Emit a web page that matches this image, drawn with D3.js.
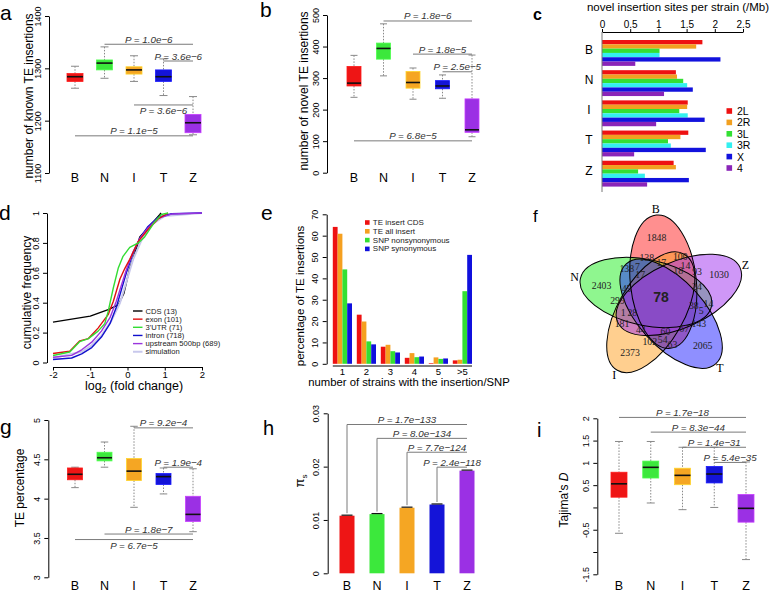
<!DOCTYPE html>
<html><head><meta charset="utf-8">
<script src="https://cdn.jsdelivr.net/npm/d3@7"></script>
<style>
body{margin:0;background:#fff;}
svg{display:block;}
</style></head><body>
<script>
// ---------------- DATA ----------------
const groups = ["B","N","I","T","Z"];
// box stats: [lowWhisker, Q1, median, Q3, highWhisker]
const knownTEBox = [[1262,1275,1284,1290,1304],[1281,1297,1310,1316,1341],[1275,1289,1297,1303,1324],[1248,1275,1284,1297,1318],[1173,1177,1196,1212,1246]];
const knownTEP = [["N","Z",1346,"1.0e\u22126","above"],["T","Z",1314,"3.6e\u22126","above"],["I","Z",1230,"3.6e\u22126","below"],["B","Z",1171,"1.1e\u22125","above"]];
const novelTEBox = [[239,275,284,337,372],[307,360,394,411,472],[233,268,286,321,332],[236,266,275,292,310],[114,128,136,234,373]];
const novelTEP = [["N","Z",481,"1.8e\u22126","above"],["I","Z",376,"1.8e\u22125","above"],["T","Z",320,"2.5e\u22125","above"],["B","Z",101,"6.8e\u22125","above"]];
const chromosomes = ["2L","2R","3L","3R","X","4"];
const insertionRate = [[1.78,1.67,1.02,1.02,2.10,0.59],[1.31,1.33,1.44,1.51,1.61,1.10],[1.52,1.51,1.37,1.52,1.82,0.96],[1.53,1.39,1.17,1.22,1.84,0.57],[1.27,1.31,0.64,0.76,1.54,0.80]];
const cdsCurve = [[-2,0.27],[-1,0.31],[-0.5,0.355],[-0.25,0.385],[-0.1,0.46],[0.05,0.62],[0.25,0.77],[0.33,0.84],[0.46,0.875],[0.87,0.99],[0.9,1.0]];
const exonCurve = [[-2,0.06],[-1.55,0.075],[-1.28,0.145],[-1.05,0.16],[-0.79,0.23],[-0.52,0.32],[-0.38,0.41],[-0.2,0.56],[-0.07,0.63],[0.06,0.69],[0.29,0.81],[0.55,0.89],[0.82,0.96],[1.09,1.0]];
const utrCurve = [[-2,0.047],[-1.55,0.07],[-1.28,0.14],[-1.05,0.16],[-0.79,0.21],[-0.61,0.26],[-0.52,0.34],[-0.38,0.5],[-0.25,0.63],[-0.12,0.71],[0.06,0.77],[0.29,0.8],[0.46,0.84],[0.73,0.94],[0.91,0.99],[1.09,1.0]];
const intronCurve = [[-2,0.02],[-1.5,0.03],[-1.23,0.058],[-0.96,0.1],[-0.7,0.17],[-0.47,0.26],[-0.3,0.37],[-0.16,0.49],[-0.03,0.6],[0.15,0.73],[0.33,0.83],[0.55,0.91],[0.82,0.97],[1.18,0.995],[2,1.0]];
const upstreamCurve = [[-2,0.035],[-1.5,0.048],[-1.23,0.085],[-0.96,0.136],[-0.7,0.21],[-0.47,0.3],[-0.3,0.41],[-0.16,0.52],[-0.03,0.62],[0.15,0.74],[0.33,0.83],[0.55,0.9],[0.82,0.965],[1.18,0.993],[2,1.0]];
const simCurve = [[-2,0.03],[-1.23,0.072],[-0.96,0.115],[-0.7,0.18],[-0.43,0.28],[-0.2,0.4],[-0.03,0.54],[0.15,0.69],[0.38,0.82],[0.64,0.92],[1.0,0.98],[2,1.0]];
const curveNames = ["CDS (13)","exon (101)","3'UTR (71)","intron (718)","upstream 500bp (689)","simulation"];
const strainBins = ["1","2","3","4","5",">5"];
const insertSeries = ["TE insert CDS","TE all insert","SNP nonsynonymous","SNP synonymous"];
const insertPct = [[64.1,23,8,2.8,0.3,1.6],[60.9,19.8,8.9,5,3,1.9],[44.2,10.5,5.9,3.1,2.3,34],[28.3,9.1,5.3,3.4,2.5,51]];
const vennSets = ["B","Z","T","I","N"];
const vennUnique = [1848,1030,2065,2373,2403];
const vennRegionA = [18,38,60,28,17];
const vennRegionB = [17,24,67,44,45];
const vennRegionC = [138,93,143,102,299];
const vennRegionD = [100,14,63,181,138];
const vennRegionE = [14,5,54,1,7];
const vennAll = 78;
const tePctBox = [[4.14,4.24,4.31,4.39,4.40],[4.40,4.48,4.52,4.59,4.72],[3.89,4.23,4.35,4.51,4.92],[4.06,4.18,4.28,4.32,4.39],[3.58,3.71,3.80,4.03,4.38]];
const tePctP = [["I","Z",4.90,"9.2e\u22124","above"],["T","Z",4.40,"1.9e\u22124","above"],["N","Z",3.55,"1.8e\u22127","above"],["B","Z",3.48,"6.7e\u22125","below"]];
const piS = [0.0108,0.0111,0.0123,0.0129,0.01925];
const piSErr = [0.0001,0.0001,0.0001,0.0001,0.0001];
const piSP = [["B","Z",0.0279,"1.7e\u2212133"],["N","Z",0.0253,"8.0e\u2212134"],["I","Z",0.0227,"7.7e\u2212124"],["T","Z",0.0199,"2.4e\u2212118"]];
const tajimaBox = [[-0.58,0.23,0.53,0.79,1.48],[0.10,0.66,0.90,1.04,1.48],[-0.05,0.51,0.72,0.88,1.35],[0.00,0.55,0.75,0.92,1.35],[-1.17,-0.33,-0.02,0.29,1.02]];
const tajimaP = [["B","Z",2.02,"1.7e\u221218","above"],["N","Z",1.69,"8.3e\u221244","above"],["I","Z",1.35,"1.4e\u221231","above"],["T","Z",1.01,"5.4e\u221235","above"]];

// ---------------- STYLE ----------------
const sans = '"Liberation Sans", Arial, Helvetica, sans-serif';
const serif = '"Liberation Serif", "Times New Roman", serif';
const groupColors = ["#ee1515","#3ce83c","#f5a623","#1414d8","#9b30e4"];
const chromColors = ["#ee1111","#f2a020","#33e033","#33f0f0","#1212dd","#8a25b8"];
const curveColors = ["#000000","#e01010","#33dd33","#1010cc","#9a35dd","#c8c8ec"];
const seriesColors = ["#ee1111","#f5a020","#33e033","#1010dd"];
const vennColors = ["#ff2020","#a030f0","#2020ff","#ffa020","#20ee20"];
const vennDrawOrder = [0,4,3,2,1];

const svg = d3.select("body").append("svg").attr("width",778).attr("height",592)
  .attr("font-family",sans);
svg.append("rect").attr("width",778).attr("height",592).attr("fill","#fff");

function letter(t,x,y,size,bold){
  svg.append("text").attr("x",x).attr("y",y).attr("font-size",size)
    .attr("font-weight",bold?"bold":"normal").text(t);
}
function yAxis(x, scale, vals, fmt, fs, off){
  const ax = d3.axisLeft(scale).tickValues(vals).tickFormat(fmt).tickSize(4).tickSizeOuter(0);
  const a = svg.append("g").attr("transform",`translate(${x},0)`).call(ax);
  a.attr("font-family",sans).attr("font-size",fs||9);
  a.selectAll(".tick text").attr("x",null).attr("dy",null)
    .attr("transform",`translate(${-(off||8.5)},0) rotate(-90)`).attr("text-anchor","middle").attr("fill","#000");
  return a;
}
function yTitle(x,y,fs){
  return svg.append("text").attr("transform",`translate(${x},${y}) rotate(-90)`)
    .attr("text-anchor","middle").attr("font-size",fs);
}
function catLabels(xs, y){
  svg.append("g").selectAll("text").data(groups).join("text")
    .attr("x",d=>xs(d)).attr("y",y).attr("text-anchor","middle").attr("font-size",12.5).text(d=>d);
}
function pBrackets(xs, ys, list){
  const g = svg.append("g");
  g.selectAll("line").data(list).join("line")
    .attr("x1",d=>xs(d[0])).attr("x2",d=>xs(d[1])).attr("y1",d=>ys(d[2])).attr("y2",d=>ys(d[2]))
    .attr("stroke","#7a7a7a").attr("stroke-width",1);
  g.selectAll("text").data(list).join("text")
    .attr("x",d=>(xs(d[0])+xs(d[1]))/2).attr("y",d=>ys(d[2])+(d[4]==="below"?9.5:-1.5))
    .attr("text-anchor","middle").attr("font-size",9.8).attr("font-style","italic").attr("fill","#333")
    .text(d=>"P = "+d[3]);
}
function boxPanel(stats, xs, ys, bw){
  const g = svg.append("g");
  const b = g.selectAll("g").data(stats).join("g").attr("transform",(d,i)=>`translate(${xs(groups[i])},0)`);
  b.append("line").attr("y1",d=>ys(d[4])).attr("y2",d=>ys(d[3])).attr("stroke","#888").attr("stroke-dasharray","1.5,1.5");
  b.append("line").attr("y1",d=>ys(d[1])).attr("y2",d=>ys(d[0])).attr("stroke","#888").attr("stroke-dasharray","1.5,1.5");
  b.append("line").attr("x1",-bw/4).attr("x2",bw/4).attr("y1",d=>ys(d[4])).attr("y2",d=>ys(d[4])).attr("stroke","#888");
  b.append("line").attr("x1",-bw/4).attr("x2",bw/4).attr("y1",d=>ys(d[0])).attr("y2",d=>ys(d[0])).attr("stroke","#888");
  b.append("rect").attr("x",-bw/2).attr("width",bw).attr("y",d=>ys(d[3])).attr("height",d=>ys(d[1])-ys(d[3]))
    .attr("fill",(d,i)=>groupColors[i]).attr("stroke",(d,i)=>d3.color(groupColors[i]).brighter(0.7)).attr("stroke-width",0.8);
  b.append("line").attr("x1",-bw/2).attr("x2",bw/2).attr("y1",d=>ys(d[2])).attr("y2",d=>ys(d[2]))
    .attr("stroke","#111").attr("stroke-width",1.6);
}

// ---------------- PANEL a ----------------
{
  const xs = d3.scalePoint().domain(groups).range([75,193]);
  const ys = d3.scaleLinear().domain([1100,1400]).range([173,16]);
  yAxis(49, ys, [1100,1200,1300,1400], d=>d);
  yTitle(32.5,96,12).text("number of known TE insertions");
  boxPanel(knownTEBox, xs, ys, 16);
  pBrackets(xs, ys, knownTEP);
  catLabels(xs, 182);
  letter("a",0,20,21);
}
// ---------------- PANEL b ----------------
{
  const xs = d3.scalePoint().domain(groups).range([354,472]);
  const ys = d3.scaleLinear().domain([0,500]).range([172.7,15]);
  yAxis(327, ys, [0,100,200,300,400,500], d=>d);
  yTitle(308,91,12).text("number of novel TE insertions");
  boxPanel(novelTEBox, xs, ys, 14);
  pBrackets(xs, ys, novelTEP);
  catLabels(xs, 182);
  letter("b",260,17,21);
}
// ---------------- PANEL c ----------------
{
  const xs = d3.scaleLinear().domain([0,2.5]).range([602,743]);
  const ys = d3.scaleBand().domain(groups).range([35.7,190.9]).paddingInner(1/7).paddingOuter(1/7);
  const yi = d3.scaleBand().domain(chromosomes).range([0,ys.bandwidth()]);
  const ax = d3.axisTop(xs).tickValues([0,0.5,1,1.5,2,2.5]).tickFormat(d=>String(d)).tickSize(3).tickPadding(1.5).tickSizeOuter(0);
  const a = svg.append("g").attr("transform","translate(0,32)").call(ax);
  a.attr("font-family",sans).attr("font-size",10);
  a.selectAll(".tick text").attr("fill","#000");
  const g = svg.append("g");
  const grp = g.selectAll("g").data(insertionRate).join("g").attr("transform",(d,i)=>`translate(0,${ys(groups[i])})`);
  grp.selectAll("rect").data(d=>d).join("rect")
    .attr("x",xs(0)).attr("y",(d,j)=>yi(chromosomes[j])).attr("height",yi.bandwidth())
    .attr("width",d=>xs(d)-xs(0)).attr("fill",(d,j)=>chromColors[j]);
  svg.append("line").attr("x1",602).attr("x2",602).attr("y1",32).attr("y2",192).attr("stroke","#777");
  svg.append("g").selectAll("text").data(groups).join("text")
    .attr("x",589).attr("y",d=>ys(d)+ys.bandwidth()/2-3).attr("dominant-baseline","central")
    .attr("text-anchor","middle").attr("font-size",12).text(d=>d);
  svg.append("text").attr("x",678).attr("y",11).attr("text-anchor","middle").attr("font-size",11.5)
    .text("novel insertion sites per strain (/Mb)");
  const lg = svg.append("g").selectAll("g").data(chromosomes).join("g")
    .attr("transform",(d,i)=>`translate(726.5,${111+i*11.4})`);
  lg.append("rect").attr("x",0).attr("y",-2.8).attr("width",5.6).attr("height",5.6).attr("fill",(d,i)=>chromColors[i]);
  lg.append("text").attr("x",10.5).attr("dominant-baseline","central").attr("font-size",10.5).text(d=>d);
  letter("c",533,20,16,true);
}
// ---------------- PANEL d ----------------
{
  const xs = d3.scaleLinear().domain([-2,2]).range([53,202]);
  const ys = d3.scaleLinear().domain([0,1]).range([362.5,213]);
  yAxis(47, ys, [0,0.2,0.4,0.6,0.8,1], d=>String(d));
  const ax = d3.axisBottom(xs).tickValues([-2,-1,0,1,2]).tickFormat(d=>String(d)).tickSize(3.5).tickPadding(1).tickSizeOuter(0);
  const a = svg.append("g").attr("transform","translate(0,367)").call(ax);
  a.attr("font-family",sans).attr("font-size",9.5);
  a.selectAll(".tick text").attr("fill","#000");
  const curves = [cdsCurve, simCurve, intronCurve, upstreamCurve, exonCurve, utrCurve];
  const idx = [0,5,3,4,1,2];
  const line = d3.line().x(d=>xs(d[0])).y(d=>ys(d[1]));
  svg.append("g").selectAll("path").data(curves).join("path")
    .attr("d",line).attr("fill","none").attr("stroke",(d,i)=>curveColors[idx[i]])
    .attr("stroke-width",(d,i)=>idx[i]===5?2:1.4).attr("stroke-linejoin","round");
  const lg = svg.append("g").selectAll("g").data(curveNames).join("g")
    .attr("transform",(d,i)=>`translate(133,${311+i*8.15})`);
  lg.append("line").attr("x1",0).attr("x2",9.5).attr("stroke",(d,i)=>curveColors[i]).attr("stroke-width",(d,i)=>i===5?2:1.4);
  lg.append("text").attr("x",12.5).attr("dominant-baseline","central").attr("font-size",7.6).attr("fill","#222").text(d=>d);
  yTitle(30.5,292.5,12).text("cumulative frequency");
  const t = svg.append("text").attr("x",134).attr("y",390).attr("text-anchor","middle").attr("font-size",12.5);
  t.append("tspan").text("log");
  t.append("tspan").attr("font-size",9).attr("dy",3).text("2");
  t.append("tspan").attr("dy",-3).text(" (fold change)");
  letter("d",-1,220,21);
}
// ---------------- PANEL e ----------------
{
  const xs = d3.scaleBand().domain(strainBins).range([328,476.8]).paddingInner(0.2).paddingOuter(0.2);
  const xi = d3.scaleBand().domain(insertSeries).range([0,xs.bandwidth()]);
  const ys = d3.scaleLinear().domain([0,70]).range([363.8,214.3]);
  yAxis(326.7, ys, d3.range(0,71,10), d=>d, 9, 8.5);
  const g = svg.append("g");
  const sg = g.selectAll("g").data(insertPct).join("g").attr("fill",(d,i)=>seriesColors[i])
    .attr("transform",(d,i)=>`translate(${xi(insertSeries[i])},0)`);
  sg.selectAll("rect").data(d=>d).join("rect")
    .attr("x",(d,j)=>xs(strainBins[j])).attr("width",xi.bandwidth())
    .attr("y",d=>ys(d)).attr("height",d=>ys(0)-ys(d));
  svg.append("line").attr("x1",xs("1")).attr("x2",xs(">5")+xs.bandwidth()).attr("y1",366).attr("y2",366).attr("stroke","#000");
  svg.append("g").selectAll("text").data(strainBins).join("text")
    .attr("x",d=>xs(d)+xs.bandwidth()/2).attr("y",374.5).attr("text-anchor","middle").attr("font-size",9.5).text(d=>d);
  const lg = svg.append("g").selectAll("g").data(insertSeries).join("g")
    .attr("transform",(d,i)=>`translate(365,${222.5+i*8.8})`);
  lg.append("rect").attr("y",-2.3).attr("width",4.6).attr("height",4.6).attr("fill",(d,i)=>seriesColors[i]);
  lg.append("text").attr("x",7.8).attr("dominant-baseline","central").attr("font-size",8).attr("fill","#222").text(d=>d);
  yTitle(304,296,11.5).text("percentage of TE insertions");
  svg.append("text").attr("x",409).attr("y",386).attr("text-anchor","middle").attr("font-size",11.3)
    .text("number of strains with the insertion/SNP");
  letter("e",261,220,21);
}
// ---------------- PANEL f ----------------
{
  const C = [662,299];
  const setAngle = i => -90 + 72*i;
  const rad = a => a*Math.PI/180;
  const g = svg.append("g").attr("transform",`translate(${C[0]},${C[1]})`);
  g.selectAll("ellipse.fill").data(vennDrawOrder).join("ellipse").attr("class","fill")
    .attr("transform",k=>`rotate(${72*k}) translate(1.3,-17.3) rotate(-6)`)
    .attr("rx",33).attr("ry",67).attr("fill",k=>vennColors[k]).attr("fill-opacity",0.5);
  g.selectAll("ellipse.edge").data(vennSets).join("ellipse").attr("class","edge")
    .attr("transform",(d,i)=>`rotate(${72*i}) translate(1.3,-17.3) rotate(-6)`)
    .attr("rx",33).attr("ry",67).attr("fill","none").attr("stroke","#000").attr("stroke-width",1);
  const types = [[vennUnique,-5,62],[vennRegionA,30,32.5],[vennRegionB,-1,37],[vennRegionC,-20,44.5],[vennRegionD,23,46.7],[vennRegionE,35,41]];
  const labels = [];
  types.forEach(([vals,off,r])=>vals.forEach((v,i)=>{
    const a = rad(setAngle(i)+off);
    labels.push({v, x:r*Math.cos(a), y:r*Math.sin(a), big:false});
  }));
  labels.push({v:vennAll,x:-1,y:-2,big:true});
  g.selectAll("text.n").data(labels).join("text").attr("class","n")
    .attr("x",d=>d.x).attr("y",d=>d.y).attr("text-anchor","middle").attr("dominant-baseline","central")
    .attr("font-family",d=>d.big?sans:serif).attr("font-weight",d=>d.big?"bold":"normal")
    .attr("font-size",d=>d.big?14:9.8).attr("fill","#222").text(d=>d.v);
  g.selectAll("text.s").data(vennSets).join("text").attr("class","s")
    .attr("x",(d,i)=>90*Math.cos(rad(setAngle(i)-4))).attr("y",(d,i)=>90*Math.sin(rad(setAngle(i)-4)))
    .attr("text-anchor","middle").attr("dominant-baseline","central").attr("font-family",serif)
    .attr("font-size",12).text(d=>d);
  letter("f",533,222,17);
}
// ---------------- PANEL g ----------------
{
  const xs = d3.scalePoint().domain(groups).range([75,193]);
  const ys = d3.scaleLinear().domain([3,5]).range([577.3,420]);
  yAxis(48.3, ys, [3,3.5,4,4.5,5], d=>String(d));
  yTitle(24,488,12).text("TE percentage");
  boxPanel(tePctBox, xs, ys, 15);
  pBrackets(xs, ys, tePctP);
  catLabels(xs, 590);
  letter("g",0,434,21);
}
// ---------------- PANEL h ----------------
{
  const xs = d3.scalePoint().domain(groups).range([347,467]);
  const ys = d3.scaleLinear().domain([0,0.03]).range([573.3,413.3]);
  yAxis(327.7, ys, [0,0.01,0.02,0.03], d=>d===0?"0":d.toFixed(2));
  const g = svg.append("g");
  const b = g.selectAll("g").data(piS).join("g").attr("transform",(d,i)=>`translate(${xs(groups[i])},0)`);
  b.append("rect").attr("x",-7.5).attr("width",15).attr("y",d=>ys(d)).attr("height",d=>ys(0)-ys(d))
    .attr("fill",(d,i)=>groupColors[i]);
  b.append("line").attr("x1",-5.5).attr("x2",5.5).attr("y1",(d,i)=>ys(d+piSErr[i])).attr("y2",(d,i)=>ys(d+piSErr[i]))
    .attr("stroke","#111").attr("stroke-width",1.2);
  const br = svg.append("g");
  br.selectAll("path").data(piSP).join("path")
    .attr("d",d=>{const i=groups.indexOf(d[0]);return `M${xs(d[0])},${ys(piS[i])-2.5}V${ys(d[2])}H${xs(d[1])}`;})
    .attr("fill","none").attr("stroke","#7a7a7a");
  br.selectAll("text").data(piSP).join("text")
    .attr("x",d=>(xs(d[0])+xs(d[1]))/2).attr("y",d=>ys(d[2])-1.5).attr("text-anchor","middle")
    .attr("font-size",9.8).attr("font-style","italic").attr("fill","#333").text(d=>"P = "+d[3]);
  const t = yTitle(304,481,13);
  t.append("tspan").text("\u03c0");
  t.append("tspan").attr("font-size",8).attr("dy",2.5).text("s");
  catLabels(xs, 590);
  letter("h",263,435,20);
}
// ---------------- PANEL i ----------------
{
  const xs = d3.scalePoint().domain(groups).range([619,746]);
  const ys = d3.scaleLinear().domain([-1.5,2]).range([574.3,418.3]);
  const shown = {"2":"2","1.5":"1.5","1":"1","0.5":"0.5","-0.5":"-0.5","-1.5":"-1.5"};
  yAxis(597.3, ys, [-1.5,-1,-0.5,0,0.5,1,1.5,2], d=>shown[String(d)]||"");
  const t = yTitle(568,500,12);
  t.append("tspan").text("Tajima's ");
  t.append("tspan").attr("font-style","italic").text("D");
  boxPanel(tajimaBox, xs, ys, 16);
  pBrackets(xs, ys, tajimaP);
  catLabels(xs, 590);
  letter("i",537,437,20);
}
</script></body></html>
